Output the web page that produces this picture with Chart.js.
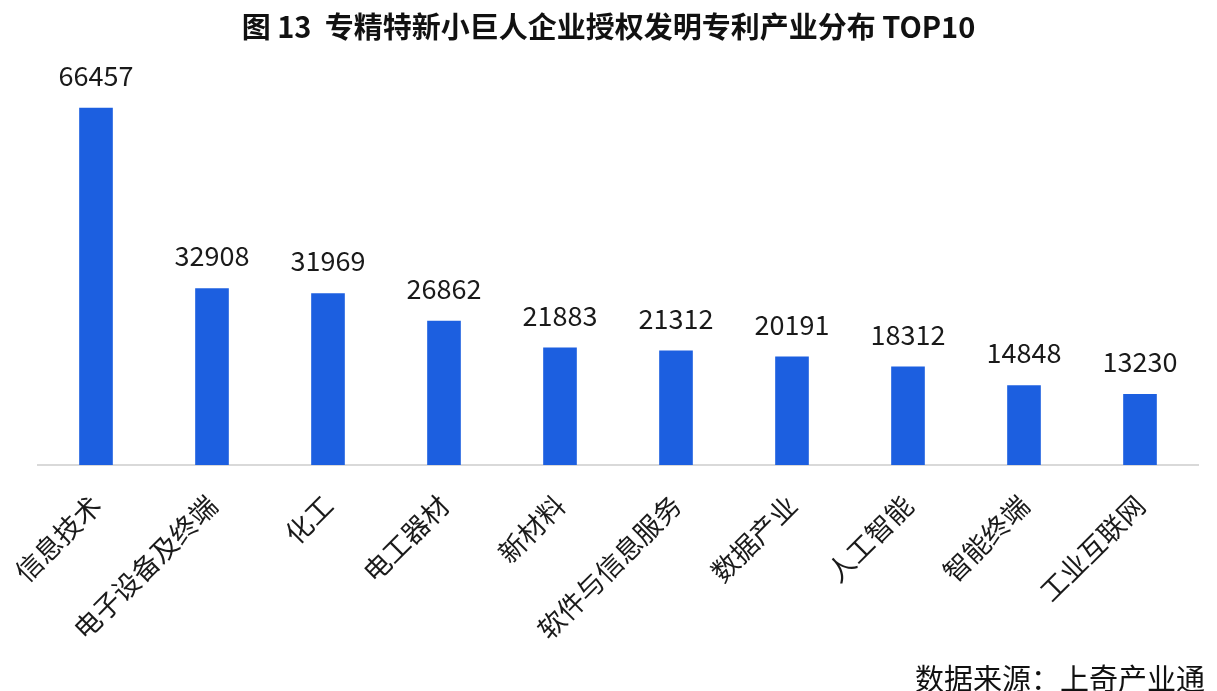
<!DOCTYPE html>
<html>
<head>
<meta charset="utf-8">
<script src="https://cdn.jsdelivr.net/npm/chart.js@4/dist/chart.umd.min.js"></script>
<style>
  html, body { margin: 0; padding: 0; background: #fff; }
  #wrap { position: relative; width: 1217px; height: 691px; overflow: hidden; }
  #source {
    position: absolute; right: 12px; top: 657px;
    font-family: "Noto Sans CJK SC", sans-serif; font-size: 29px; color: #111;
    line-height: 40px; white-space: nowrap;
  }
</style>
</head>
<body>
<div id="wrap">
  <canvas id="chart" width="1217" height="691"></canvas>
  <div id="source">数据来源：上奇产业通</div>
</div>
<script>
const categories = ['信息技术', '电子设备及终端', '化工', '电工器材', '新材料', '软件与信息服务', '数据产业', '人工智能', '智能终端', '工业互联网'];
const patents = [66457, 32908, 31969, 26862, 21883, 21312, 20191, 18312, 14848, 13230];

const fontFamily = '"Noto Sans CJK SC", "Noto Sans", sans-serif';

// value labels above each bar
const valueLabels = {
    id: 'valueLabels',
    afterDatasetsDraw(chart) {
        const ctx = chart.ctx;
        const meta = chart.getDatasetMeta(0);
        ctx.save();
        ctx.font = '27px ' + fontFamily;
        ctx.fillStyle = '#1a1a1a';
        ctx.textAlign = 'center';
        ctx.textBaseline = 'middle';
        meta.data.forEach((bar, i) => {
            ctx.fillText(patents[i], bar.x, bar.y - 32);
        });
        ctx.restore();
    }
};

const ctx = document.getElementById('chart').getContext('2d');
new Chart(ctx, {
    type: 'bar',
    data: {
        labels: categories,
        datasets: [{
            data: patents,
            backgroundColor: '#1c5fe0',
            barPercentage: 0.58,
            categoryPercentage: 0.5
        }]
    },
    options: {
        responsive: false,
        animation: false,
        layout: { padding: { left: 19, right: 19, top: 0, bottom: 0 } },
        plugins: {
            legend: { display: false },
            tooltip: { enabled: false },
            title: {
                display: true,
                text: '图 13  专精特新小巨人企业授权发明专利产业分布 TOP10',
                color: '#111',
                font: { family: fontFamily, size: 29, weight: 'bold' },
                padding: { top: 10, bottom: 44 }
            }
        },
        scales: {
            y: {
                min: 0,
                max: 70000,
                grid: { display: false },
                border: { display: false },
                ticks: { display: false },
                afterFit(scale) { scale.width = 19; }
            },
            x: {
                grid: { display: false },
                border: { display: true, color: '#d9d9d9', width: 2 },
                ticks: {
                    color: '#1a1a1a',
                    font: { family: fontFamily, size: 27 },
                    minRotation: 45,
                    maxRotation: 45,
                    padding: 16
                },
                afterFit(scale) { scale.height = 226; }
            }
        }
    },
    plugins: [valueLabels]
});
</script>
</body>
</html>
